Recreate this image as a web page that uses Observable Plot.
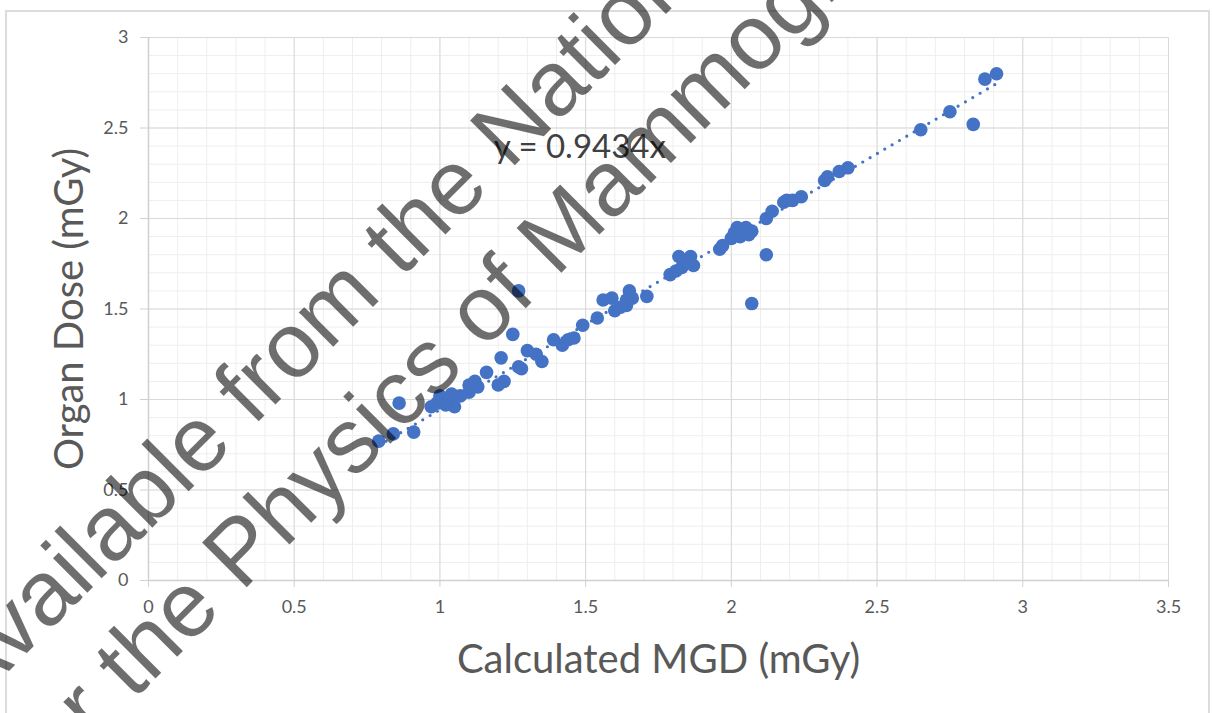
<!DOCTYPE html>
<html><head><meta charset="utf-8">
<script src="https://cdn.jsdelivr.net/npm/d3@7"></script>
<script src="https://cdn.jsdelivr.net/npm/@observablehq/plot@0.6"></script>
<style>
body{margin:0;background:#fff;}
#wrap{position:relative;width:1213px;height:713px;overflow:hidden;background:#fff;}
#frame{position:absolute;left:5px;top:10px;width:1205px;height:720px;border:2px solid #dcdcdc;box-sizing:border-box;}
#chart{position:absolute;left:0;top:0;}
#wm{position:absolute;left:0;top:0;pointer-events:none;}
</style></head><body>
<div id="wrap"><div id="frame"></div><div id="chart"></div></div>
<script>
// Calculated MGD (mGy) vs Organ Dose (mGy)
const calcMGD = [0.79,0.84,0.86,0.91,0.97,0.99,1.01,1.03,1.04,1.05,1.00,1.10,1.10,1.12,1.13,1.16,1.20,1.22,1.21,1.25,1.27,1.27,1.28,1.30,1.33,1.35,1.39,1.42,1.44,1.46,1.49,1.54,1.56,1.59,1.60,1.62,1.64,1.65,1.66,1.71,1.79,1.81,1.83,1.82,1.86,1.87,1.96,1.97,2.00,2.02,2.04,2.05,2.06,2.07,2.07,2.12,2.12,2.14,2.18,2.19,2.21,2.24,2.32,2.33,2.37,2.40,2.65,2.75,2.83,2.87,2.91,1.02,1.07,1.12,1.64,1.85,2.01,2.03];
const organDose = [0.77,0.81,0.98,0.82,0.96,0.98,1.01,0.98,1.03,0.96,1.02,1.08,1.04,1.10,1.07,1.15,1.08,1.10,1.23,1.36,1.60,1.18,1.17,1.27,1.25,1.21,1.33,1.30,1.33,1.34,1.41,1.45,1.55,1.56,1.49,1.51,1.52,1.60,1.56,1.57,1.69,1.71,1.73,1.79,1.79,1.74,1.83,1.85,1.89,1.95,1.92,1.95,1.91,1.93,1.53,1.80,2.00,2.04,2.09,2.10,2.10,2.12,2.21,2.23,2.26,2.28,2.49,2.59,2.52,2.77,2.80,0.97,1.02,1.08,1.55,1.76,1.92,1.90];
const slope = 0.9434;
const xTicks = [0,0.5,1,1.5,2,2.5,3,3.5];
const yTicks = [0,0.5,1,1.5,2,2.5,3];
const xMinor = d3.range(0, 35.5, 1).map(d => d / 10);
const yMinor = d3.range(0, 30.5, 1).map(d => d / 10);
const xTitle = "Calculated MGD (mGy)";
const yTitle = "Organ Dose (mGy)";
const equation = `y = ${slope}x`;
const watermark = ["Available from the National", "for the Physics of Mammography"];

const points = calcMGD.map((x, i) => ({x, y: organDose[i]}));
const x0 = d3.min(calcMGD), x1 = d3.max(calcMGD);
const trend = [{x: x0, y: slope * x0}, {x: x1, y: slope * x1}];

const fontFam = "Lato, 'Open Sans', sans-serif";
const chart = Plot.plot({
  width: 1213, height: 713,
  marginLeft: 148, marginRight: 45, marginTop: 37, marginBottom: 133,
  style: {fontFamily: fontFam, background: "transparent", overflow: "visible"},
  x: {domain: [0, 3.5]},
  y: {domain: [0, 3]},
  marks: [
    Plot.gridX(xMinor, {stroke: "#eeeeee", strokeOpacity: 1}),
    Plot.gridY(yMinor, {stroke: "#eeeeee", strokeOpacity: 1}),
    Plot.gridX(xTicks, {stroke: "#d9d9d9", strokeOpacity: 1}),
    Plot.gridY(yTicks, {stroke: "#d9d9d9", strokeOpacity: 1}),
    Plot.ruleY([0], {stroke: "#d0d0d0", strokeWidth: 1.5}),
    Plot.ruleX([0], {stroke: "#d0d0d0", strokeWidth: 1.5}),
    Plot.axisX(xTicks, {tickSize: 7, tickPadding: 13, stroke: "#d0d0d0", fill: "#595959", fontSize: 18, tickFormat: d => String(d), label: null}),
    Plot.axisY(yTicks, {tickSize: 8, tickPadding: 12, stroke: "#d0d0d0", fill: "#595959", fontSize: 18, tickFormat: d => String(d), label: null}),
    Plot.text([xTitle], {frameAnchor: "bottom", dy: 80, fontSize: 40, fill: "#595959", lineAnchor: "middle"}),
    Plot.text([yTitle], {frameAnchor: "left", dx: -78, rotate: -90, textAnchor: "middle", fontSize: 40, fill: "#595959", lineAnchor: "middle"}),
    Plot.line(trend, {x: "x", y: "y", stroke: "#4472C4", strokeWidth: 3.2, strokeDasharray: "0,8.5", strokeLinecap: "round"}),
    Plot.dot(points, {x: "x", y: "y", r: 6.8, fill: "#4472C4", stroke: "none"}),
    Plot.text([equation], {x: () => 1.48, y: () => 2.39, fontSize: 33, fill: "#404040"})
  ]
});
document.getElementById("chart").appendChild(chart);

// watermark overlay
const svg = d3.select("#wrap").append("svg").attr("id", "wm").attr("width", 1213).attr("height", 713);
const wmStarts = [[-28, 708], [39, 795]];
watermark.forEach((t, i) => {
  svg.append("text")
    .attr("transform", `translate(${wmStarts[i][0]},${wmStarts[i][1]}) rotate(-45)`)
    .attr("font-family", "'Liberation Sans', Arial, sans-serif")
    .attr("font-size", 92)
    .attr("fill", "#000")
    .attr("fill-opacity", 0.57)
    .text(t);
});
</script>
</body></html>
